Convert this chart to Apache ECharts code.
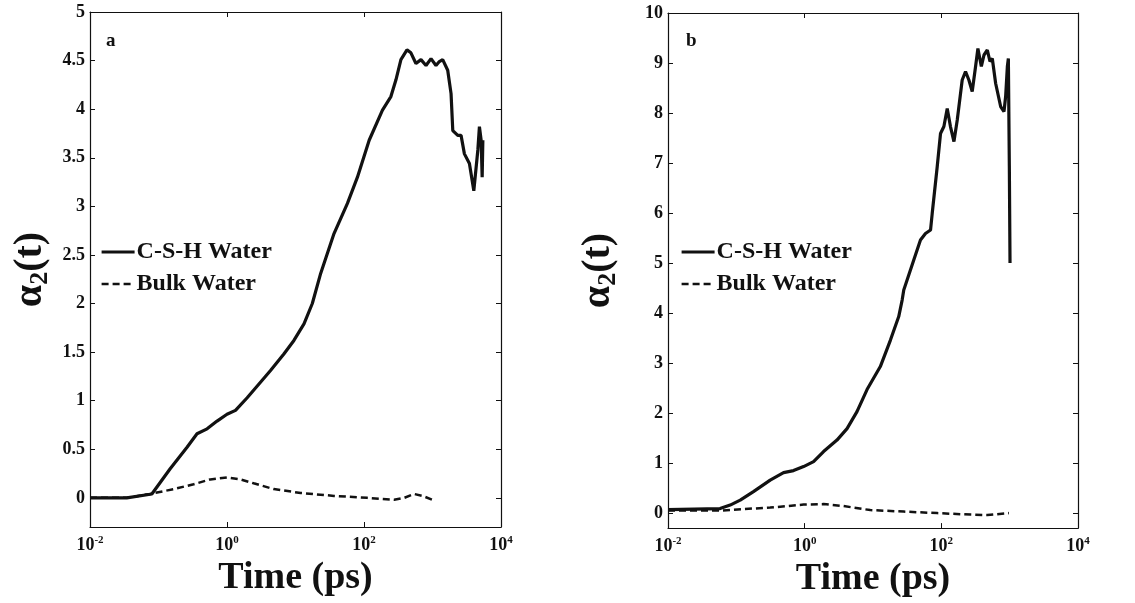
<!DOCTYPE html>
<html>
<head>
<meta charset="utf-8">
<script src="https://cdn.jsdelivr.net/npm/echarts@6/dist/echarts.min.js"></script>
<style>
  html, body { margin: 0; padding: 0; background: #fff; }
  #chart { width: 1135px; height: 603px; }
</style>
</head>
<body>
<div id="chart"></div>
<script>
// panel a: C-S-H water (solid) and bulk water (dashed)
const timeCshA = [0.01, 0.0344, 0.080, 0.148, 0.261, 0.365, 0.512, 0.716, 1.0, 1.33, 1.97, 3.08, 4.32, 6.76, 9.48, 13.3, 17.6, 23.3, 36.5, 57.3, 80.2, 119, 186, 247, 292, 346, 424, 484, 573, 679, 804, 951, 1125, 1259, 1409, 1667, 1866, 1977, 2339, 2612, 2924, 3459, 4009, 4592, 4842, 5129, 5309, 5433];
const alphaCshA = [0.0, 0.0, 0.04, 0.30, 0.52, 0.66, 0.71, 0.79, 0.86, 0.90, 1.03, 1.19, 1.31, 1.48, 1.62, 1.79, 2.0, 2.31, 2.72, 3.03, 3.30, 3.68, 3.99, 4.13, 4.30, 4.51, 4.61, 4.58, 4.47, 4.51, 4.45, 4.52, 4.45, 4.49, 4.51, 4.40, 4.16, 3.78, 3.73, 3.73, 3.54, 3.44, 3.16, 3.58, 3.82, 3.68, 3.30, 3.68];
const timeBulkA = [0.01, 0.0344, 0.0755, 0.166, 0.326, 0.571, 1.0, 1.57, 2.45, 4.83, 11.9, 36.5, 112, 275, 386, 541, 718, 1000];
const alphaBulkA = [0.0, 0.0, 0.04, 0.09, 0.14, 0.19, 0.21, 0.19, 0.15, 0.09, 0.05, 0.02, 0.0, -0.02, 0.0, 0.04, 0.02, -0.02];

// panel b
const timeCshB = [0.01, 0.0578, 0.0813, 0.114, 0.178, 0.313, 0.491, 0.687, 0.964, 1.35, 1.89, 2.97, 4.17, 5.83, 8.18, 12.8, 18.0, 23.8, 26.7, 28.2, 39.5, 49.5, 58.6, 69.5, 73.5, 87.1, 97.3, 109, 122, 136, 153, 171, 202, 226, 253, 283, 317, 343, 385, 421, 471, 515, 557, 624, 738, 826, 873, 925, 957, 989, 1012];
const alphaCshB = [0.07, 0.09, 0.16, 0.26, 0.43, 0.66, 0.81, 0.85, 0.93, 1.03, 1.23, 1.46, 1.69, 2.03, 2.47, 2.93, 3.46, 3.93, 4.26, 4.46, 5.06, 5.46, 5.59, 5.66, 5.99, 6.93, 7.59, 7.73, 8.09, 7.73, 7.43, 7.86, 8.66, 8.83, 8.66, 8.43, 8.93, 9.29, 8.93, 9.16, 9.26, 9.03, 9.09, 8.59, 8.13, 8.03, 8.33, 8.93, 9.09, 6.93, 5.0];
const timeBulkB = [0.01, 0.0578, 0.127, 0.313, 0.964, 1.89, 3.72, 9.12, 28.2, 87.1, 269, 471, 977];
const alphaBulkB = [0.05, 0.05, 0.08, 0.11, 0.17, 0.18, 0.14, 0.06, 0.03, 0.0, -0.03, -0.04, 0.0];

const yTicksA = [0, 0.5, 1, 1.5, 2, 2.5, 3, 3.5, 4, 4.5, 5];
const yTicksB = [0, 1, 2, 3, 4, 5, 6, 7, 8, 9, 10];
const seriesNames = ['C-S-H Water', 'Bulk Water'];
const panelLabels = ['a', 'b'];

const FONT = 'Liberation Serif';
const INK = '#111';
const solidLine = { color: INK, width: 3.2 };
const dashedLine = { color: INK, width: 2.5, type: [7, 4] };

const pairs = (xs, ys) => xs.map((x, i) => [x, ys[i]]);

const grids = [
  { left: 90, right: 634, top: 12, bottom: 76 },
  { left: 668, right: 57, top: 13, bottom: 74 }
];

function xAxes(gridIndex) {
  const base = {
    type: 'log', logBase: 10, min: 0.01, max: 10000, interval: 2,
    gridIndex,
    axisLine: { onZero: false, lineStyle: { color: INK, width: 1.2 } },
    axisTick: { inside: true, length: 5, lineStyle: { color: INK } },
    minorTick: { show: false },
    splitLine: { show: false }
  };
  return [
    Object.assign({}, base, {
      position: 'bottom',
      name: 'Time (ps)', nameLocation: 'middle', nameGap: 25,
      nameTextStyle: { fontFamily: FONT, fontWeight: 'bold', fontSize: 38, color: INK },
      axisLabel: {
        margin: 8,
        formatter: v => '{b|10}{s|' + Math.round(Math.log10(v)) + '}',
        rich: {
          b: { fontFamily: FONT, fontWeight: 'bold', fontSize: 18, color: INK, lineHeight: 20 },
          s: { fontFamily: FONT, fontWeight: 'bold', fontSize: 11, color: INK, lineHeight: 12, verticalAlign: 'top' }
        }
      }
    }),
    Object.assign({}, base, { position: 'top', axisLabel: { show: false } })
  ];
}

function yAxes(gridIndex, max, ticks, nameGap) {
  const base = {
    type: 'value', min: -0.3, max, gridIndex,
    axisLine: { show: true, onZero: false, lineStyle: { color: INK, width: 1.2 } },
    axisTick: { show: true, inside: true, length: 5, customValues: ticks, lineStyle: { color: INK } },
    splitLine: { show: false }
  };
  return [
    Object.assign({}, base, {
      position: 'left',
      name: '{a|α}{sub|2}{a|(t)}', nameLocation: 'middle', nameGap, nameRotate: 90,
      nameTextStyle: {
        rich: {
          a: { fontFamily: FONT, fontWeight: 'bold', fontSize: 40, color: INK, lineHeight: 44 },
          sub: { fontFamily: FONT, fontWeight: 'bold', fontSize: 26, color: INK, lineHeight: 44, verticalAlign: 'bottom', padding: [16, 0, 0, 0] }
        }
      },
      axisLabel: {
        customValues: ticks, margin: 5,
        fontFamily: FONT, fontWeight: 'bold', fontSize: 18, color: INK
      }
    }),
    Object.assign({}, base, { position: 'right', axisLabel: { show: false } })
  ];
}

const option = {
  animation: false,
  backgroundColor: '#fff',
  grid: grids,
  title: panelLabels.map((t, i) => ({
    text: t, left: i === 0 ? 106 : 686, top: 32, padding: 0,
    textStyle: { fontFamily: FONT, fontWeight: 'bold', fontSize: 19, color: INK }
  })),
  legend: [100, 680].map(left => ({
    data: [
      { name: seriesNames[0], lineStyle: solidLine },
      { name: seriesNames[1], lineStyle: dashedLine }
    ],
    orient: 'vertical', left, top: 240,
    itemWidth: 33, itemHeight: 12, itemGap: 8, padding: 0,
    itemStyle: { color: 'transparent', borderWidth: 0, opacity: 0 },
    textStyle: { fontFamily: FONT, fontWeight: 'bold', fontSize: 24, color: INK, padding: [0, 0, 0, -3] }
  })),
  xAxis: [...xAxes(0), ...xAxes(1)],
  yAxis: [...yAxes(0, 5, yTicksA, 37), ...yAxes(1, 10, yTicksB, 47)],
  series: [
    { data: pairs(timeBulkA, alphaBulkA), name: seriesNames[1], x: 0, y: 0, dashed: true },
    { data: pairs(timeCshA, alphaCshA), name: seriesNames[0], x: 0, y: 0, dashed: false },
    { data: pairs(timeBulkB, alphaBulkB), name: seriesNames[1], x: 2, y: 2, dashed: true },
    { data: pairs(timeCshB, alphaCshB), name: seriesNames[0], x: 2, y: 2, dashed: false }
  ].map(s => ({
    type: 'line', name: s.name, data: s.data,
    xAxisIndex: s.x, yAxisIndex: s.y,
    symbol: 'none', showSymbol: false,
    lineStyle: s.dashed ? dashedLine : solidLine,
    itemStyle: { color: INK },
    z: s.dashed ? 2 : 3
  }))
};

const chart = echarts.init(document.getElementById('chart'), null, { renderer: 'canvas' });
chart.setOption(option);
</script>
</body>
</html>
